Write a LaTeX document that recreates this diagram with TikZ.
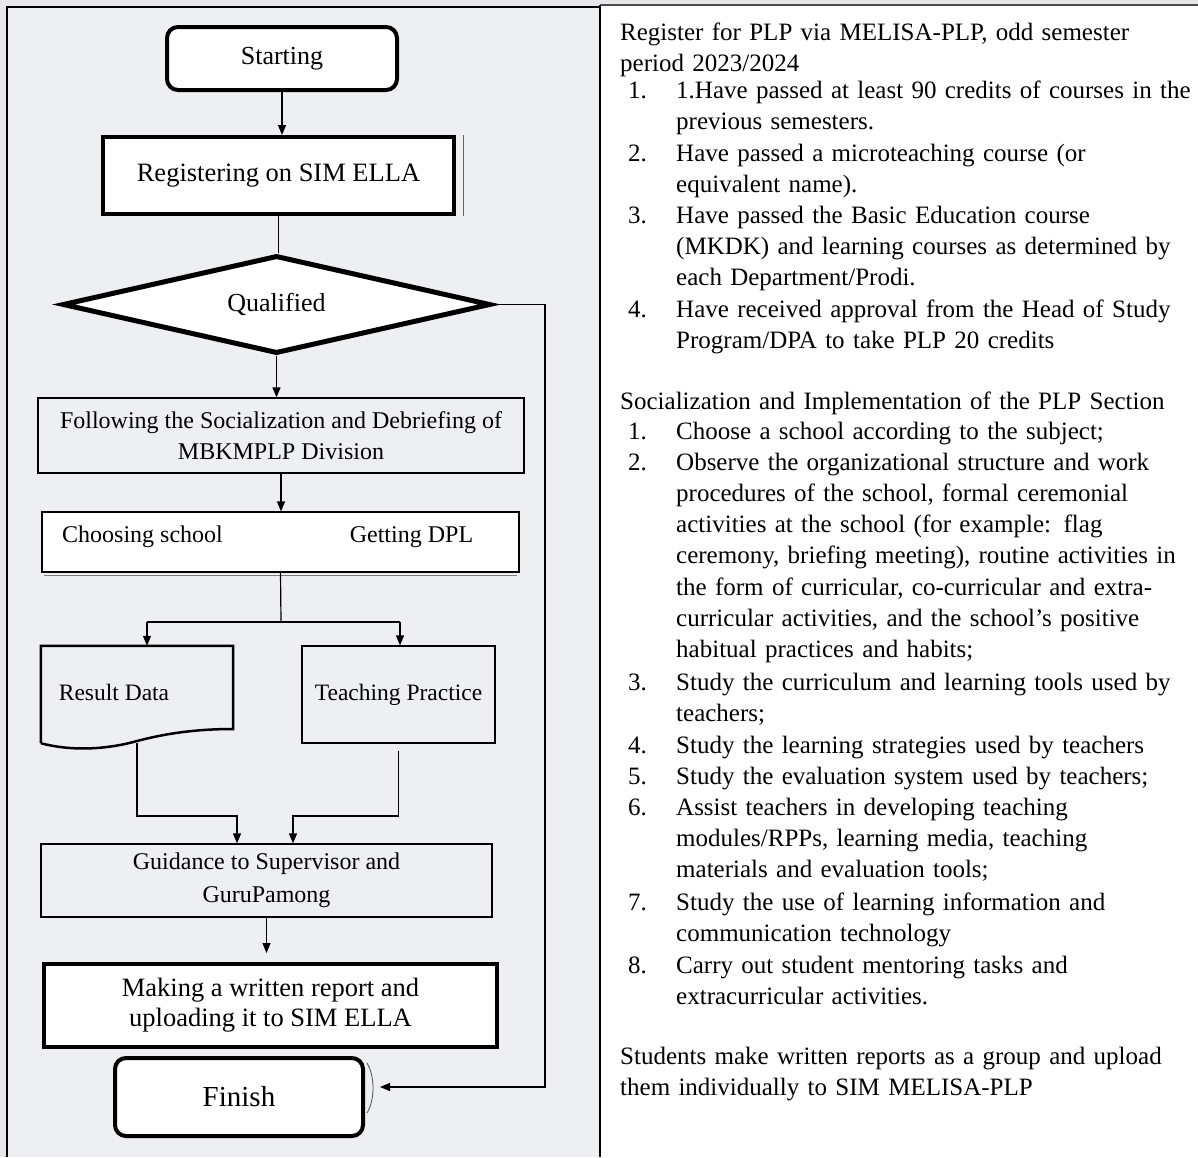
\documentclass[tikz,border=0pt]{standalone}
\usepackage{fontspec}
\setmainfont{Liberation Serif}
\usetikzlibrary{shapes.geometric,arrows.meta}
\definecolor{pagebg}{HTML}{E6E7EB}
\definecolor{panelbg}{HTML}{EDEFF2}

\begin{document}
\begin{tikzpicture}[x=1pt,y=-1pt,
  >={Triangle[length=10pt,width=8pt]},
  conn/.style={line width=1.2pt},
  termbox/.style={draw,rounded corners=11pt,line width=4pt,fill=white,inner sep=0pt},
  procbox/.style={draw,line width=4pt,fill=white,inner sep=0pt},
  plainbox/.style={draw,line width=1.2pt,inner sep=0pt},
  decision/.style={draw,diamond,shape aspect=4.2,line width=5pt,fill=white,inner sep=0pt},
  rtext/.style={anchor=base west,inner sep=0pt,text width=600pt,align=left,font=\fontsize{25}{31.3}\selectfont},
  rnum/.style={anchor=base west,inner sep=0pt,font=\fontsize{25}{31.3}\selectfont}]
\useasboundingbox (0,0) rectangle (1198,1157);
\fill[pagebg] (0,0) rectangle (1198,1157);
\fill[panelbg] (7,7) rectangle (600,1157);
\draw[line width=2pt] (7,1157) -- (7,7) -- (600,7);
\fill[white] (600,5) rectangle (1198,1157);
\draw[line width=2pt,black!70] (600,5) -- (1198,5);
\draw[line width=2pt] (600,5) -- (600,1157);

% flow chart
\node[termbox,minimum width=230pt,minimum height=63pt,font=\fontsize{26}{31}\selectfont] (start) at (282,58.5) {Starting};
\node[procbox,minimum width=351pt,minimum height=77pt,font=\fontsize{26.5}{31}\selectfont] (reg) at (278.5,175.5) {Registering on SIM ELLA};
\draw[line width=0.8pt,black!60] ([xshift=7pt]reg.north east) -- ([xshift=7pt]reg.south east);
\node[decision,minimum width=428pt,minimum height=98pt,font=\fontsize{26}{31}\selectfont] (qual) at (276.5,304.5) {Qualified};
\node[plainbox,minimum width=486pt,minimum height=75pt,align=center,font=\fontsize{24}{31}\selectfont] (follow) at (281,435.5) {Following the Socialization and Debriefing of\\MBKMPLP Division};
\node[plainbox,fill=white,minimum width=477pt,minimum height=60pt] (choose) at (280.5,542) {};
\draw[line width=1pt,black!50] ([xshift=3pt,yshift=-2.5pt]choose.south west) -- ([xshift=-3pt,yshift=-2.5pt]choose.south east);
\node[inner sep=0pt,font=\fontsize{24}{31}\selectfont] (chs) at (142.5,537) {Choosing school};
\node[inner sep=0pt,font=\fontsize{24}{31}\selectfont] (gdpl) at (411.5,537) {Getting DPL};

\node[inner sep=0pt,minimum width=192pt,minimum height=97pt] (result) at (137,694.5) {};
\draw[line width=2.5pt] (result.south west) -- (result.north west) -- (result.north east) -- (233,729)
  .. controls (190,729) and (160,735) .. (137,741) .. controls (105,750) and (70,751) .. (result.south west);
\node[inner sep=0pt,font=\fontsize{23.5}{31}\selectfont] (resultlbl) at (114,692) {Result Data};
\node[plainbox,minimum width=193pt,minimum height=97pt,font=\fontsize{23.5}{31}\selectfont] (teach) at (398.5,694.5) {Teaching Practice};

\node[plainbox,minimum width=451pt,minimum height=73pt,align=center,font=\fontsize{24}{33}\selectfont] (guide) at (266.5,880.5) {Guidance to Supervisor and\\GuruPamong};
\node[procbox,minimum width=453pt,minimum height=83pt,align=center,font=\fontsize{26.5}{30}\selectfont] (make) at (270.5,1005.5) {Making a written report and\\uploading it to SIM ELLA};
\node[termbox,minimum width=248pt,minimum height=78pt,font=\fontsize{29}{31}\selectfont] (finish) at (239,1097) {Finish};
\draw[line width=0.8pt,black!70] (367,1063) .. controls (375,1076) and (375,1100) .. (367,1113);

\coordinate (split) at (281,622);
\coordinate (splitL) at (147,622);
\coordinate (splitR) at (400,622);
\coordinate (joinL) at (237,816);
\coordinate (joinR) at (293,816);
\coordinate (back) at (545,1087);

\draw[conn,->] (start.south) -- (start.south |- reg.north);
\draw[conn] (reg.south) -- (reg.south |- qual.north);
\draw[conn,->] (qual.south) -- (qual.south |- follow.north);
\draw[conn,->] (follow.south) -- (follow.south |- choose.north);
\draw[conn] (choose.south) -- (split);
\draw[conn] (splitL) -- (splitR);
\draw[conn,->] (splitL) -- (splitL |- result.north);
\draw[conn,->] (splitR) -- (splitR |- teach.north);
\draw[conn,->] (result.south) |- (joinL) -- (joinL |- guide.north);
\draw[conn,->] ([yshift=-7pt]teach.south) |- (joinR) -- (joinR |- guide.north);
\draw[conn,->,shorten >=9pt] (guide.south) -- (guide.south |- make.north);
\draw[conn,->,shorten >=15pt] (qual.east) -| (back) -- (back -| finish.east);

% notes on the right
\node[rtext] (plpreg) at (620,40) {Register for PLP via MELISA-PLP, odd semester\\period 2023/2024};
\node[rnum] (pn1) at (628,98) {1.};
\node[rtext] (pi1) at (676,98) {1.Have passed at least 90 credits of courses in the\\previous semesters.};
\node[rnum] (pn2) at (628,161) {2.};
\node[rtext] (pi2) at (676,161) {Have passed a microteaching course (or\\equivalent name).};
\node[rnum] (pn3) at (628,223) {3.};
\node[rtext] (pi3) at (676,223) {Have passed the Basic Education course\\(MKDK) and learning courses as determined by\\each Department/Prodi.};
\node[rnum] (pn4) at (628,317) {4.};
\node[rtext] (pi4) at (676,317) {Have received approval from the Head of Study\\Program/DPA to take PLP 20 credits};

\node[rtext] (plpsec) at (620,409) {Socialization and Implementation of the PLP Section};
\node[rnum] (sn1) at (628,439) {1.};
\node[rtext] (si1) at (676,439) {Choose a school according to the subject;};
\node[rnum] (sn2) at (628,470) {2.};
\node[rtext] (si2) at (676,470) {Observe the organizational structure and work\\procedures of the school, formal ceremonial\\activities at the school (for example: flag\\ceremony, briefing meeting), routine activities in\\the form of curricular, co-curricular and extra-\\curricular activities, and the school's positive\\habitual practices and habits;};
\node[rnum] (sn3) at (628,690) {3.};
\node[rtext] (si3) at (676,690) {Study the curriculum and learning tools used by\\teachers;};
\node[rnum] (sn4) at (628,753) {4.};
\node[rtext] (si4) at (676,753) {Study the learning strategies used by teachers};
\node[rnum] (sn5) at (628,784) {5.};
\node[rtext] (si5) at (676,784) {Study the evaluation system used by teachers;};
\node[rnum] (sn6) at (628,815) {6.};
\node[rtext] (si6) at (676,815) {Assist teachers in developing teaching\\modules/RPPs, learning media, teaching\\materials and evaluation tools;};
\node[rnum] (sn7) at (628,910) {7.};
\node[rtext] (si7) at (676,910) {Study the use of learning information and\\communication technology};
\node[rnum] (sn8) at (628,973) {8.};
\node[rtext] (si8) at (676,973) {Carry out student mentoring tasks and\\extracurricular activities.};

\node[rtext] (plprep) at (620,1064) {Students make written reports as a group and upload\\them individually to SIM MELISA-PLP};
\end{tikzpicture}
\end{document}
